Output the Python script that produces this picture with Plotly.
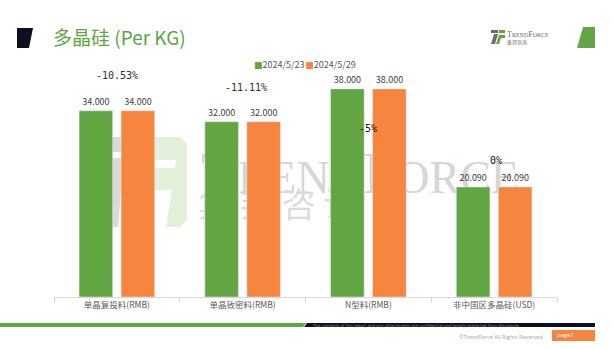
import plotly.graph_objects as go

# ---------------- data ----------------
categories = ["单晶复投料(RMB)", "单晶致密料(RMB)", "N型料(RMB)", "非中国区多晶硅(USD)"]
series_names = ["2024/5/23", "2024/5/29"]
values_0523 = [34.0, 32.0, 38.0, 20.09]
values_0529 = [34.0, 32.0, 38.0, 20.09]
change_labels = ["-10.53%", "-11.11%", "-5%", "0%"]

GREEN = "#64a543"
ORANGE = "#f5853f"
DARK = "#0b1120"
CJK = "Noto Sans CJK SC"

# ---------------- geometry helpers (pixel -> paper) ----------------
YMAX = 42
L, R, B = 54, 557, 297
PX_PER_UNIT = 5.475
T = round(B - YMAX * PX_PER_UNIT)
W, H = R - L, B - T
def X(px):
    return (px - L) / W
def Y(py):
    return (B - py) / H
def poly(pts):
    return "M " + " L ".join(f"{X(a):.5f},{Y(b):.5f}" for a, b in pts) + " Z"

fig = go.Figure()
for nm, vals, col in zip(series_names, [values_0523, values_0529], [GREEN, ORANGE]):
    fig.add_trace(go.Bar(
        x=categories, y=vals, name=nm, marker_color=col,
        texttemplate="%{y:.3f}", textposition="outside", cliponaxis=False,
        textfont=dict(family=CJK, size=9, color="#404040"), showlegend=False,
    ))

def P(pts, color, layer="above"):
    return dict(type="path", xref="paper", yref="paper", layer=layer, path=poly(pts),
                fillcolor=color, line=dict(width=0))

shapes = []
# header decorations
shapes.append(P([(17, 28), (33, 28), (29, 48), (17, 48)], DARK))
shapes.append(P([(583, 27), (595, 27), (595, 48), (577, 48)], GREEN))
# small logo icon
shapes.append(P([(491, 30), (498, 30), (498, 33), (491, 33)], "#6d6d6d"))
shapes.append(P([(494, 34), (498, 34), (495, 44), (491, 44)], "#6d6d6d"))
shapes.append(P([(499, 30), (505, 30), (505, 33), (499, 33)], GREEN))
shapes.append(P([(499, 35), (505, 35), (505, 38), (498, 38)], GREEN))
shapes.append(P([(498, 38), (501, 38), (499, 44), (496, 44)], GREEN))
# watermark logo (below traces)
shapes.append(P([(86, 137), (140, 137), (140, 152), (86, 152)], "#d9d9d9", "below"))
shapes.append(P([(100, 158), (124, 158), (118, 227), (94, 227)], "#d9d9d9", "below"))
shapes.append(P([(145, 137), (180, 137), (187, 144), (187, 220), (180, 227), (145, 227)], "#e3f0da", "below"))
shapes.append(P([(145, 160), (176, 160), (175, 168), (145, 168)], "white", "below"))
shapes.append(P([(145, 190), (172, 190), (166, 227), (145, 227)], "white", "below"))
# watermark texts
shapes.append(dict(type="rect", xref="paper", yref="paper", layer="below",
                   x0=X(200), x1=X(520), y0=Y(192), y1=Y(140), line=dict(width=0), fillcolor="rgba(0,0,0,0)",
                   label=dict(text="T<span style='font-size:46px'>REND</span>F<span style='font-size:46px'>ORCE</span>",
                              font=dict(family="Liberation Serif", size=60, color="#d6d6d6"),
                              textposition="middle center")))
shapes.append(dict(type="rect", xref="paper", yref="paper", layer="below",
                   x0=X(184), x1=X(372), y0=Y(226), y1=Y(188), line=dict(width=0), fillcolor="rgba(0,0,0,0)",
                   label=dict(text="集 邦 咨 询", font=dict(family=CJK, size=34, color="#dcdcdc"),
                              textposition="middle center")))
# footer
shapes.append(P([(0, 323), (306, 323), (303, 327), (0, 327)], GREEN))
shapes.append(P([(307, 323), (595, 323), (595, 327), (304, 327)], DARK))
shapes.append(P([(552, 330), (595, 330), (595, 341), (552, 341)], ORANGE))

annotations = []
# legend (top centre)
legend_text = "".join(
    f"<span style='font-family:DejaVu Sans;color:{col}'>■</span>{nm}"
    + ("<span style='font-size:3px'> </span>" if i == 0 else "")
    for i, (nm, col) in enumerate(zip(series_names, [GREEN, ORANGE]))
)
annotations.append(dict(x=X(252), y=Y(64), xref="paper", yref="paper", xanchor="left", yanchor="middle",
                        text=legend_text, showarrow=False, font=dict(family=CJK, size=9, color="#595959")))
# change labels
label_y = [40.4, 38.2, 30.7, 24.85]
label_xshift = [0, 3, 0, 2]
label_col = ["#303030", "#303030", "#111111", "#111111"]
for c, txt, yy, xs, col in zip(categories, change_labels, label_y, label_xshift, label_col):
    annotations.append(dict(x=c, y=yy, xref="x", yref="y", text=txt, showarrow=False, xshift=xs,
                            font=dict(family="DejaVu Sans Mono", size=10, color=col)))
# logo text
annotations.append(dict(x=X(505), y=Y(35), xref="paper", yref="paper", xanchor="left", yanchor="middle",
                        text="T<span style='font-size:6px'>REND</span>F<span style='font-size:6px'>ORCE</span>",
                        showarrow=False, font=dict(family="Liberation Serif", size=8, color="#6d6d6d")))
annotations.append(dict(x=X(505), y=Y(42), xref="paper", yref="paper", xanchor="left", yanchor="middle",
                        text="集邦咨询", showarrow=False, font=dict(family=CJK, size=5, color="#6d6d6d")))
# footer texts
annotations.append(dict(x=X(310), y=Y(325), xref="paper", yref="paper", xanchor="left", yanchor="middle",
                        text="The contents of this report and any attachments are confidential and legally protected from disclosure.",
                        showarrow=False, font=dict(family="DejaVu Sans", size=4, color="#7f8a9a")))
annotations.append(dict(x=X(457), y=Y(337), xref="paper", yref="paper", xanchor="left", yanchor="middle",
                        text="©TrendForce All Rights Reserved", showarrow=False,
                        font=dict(family="Open Sans", size=5.5, color="#a6a6a6")))
annotations.append(dict(x=X(555), y=Y(335), xref="paper", yref="paper", xanchor="left", yanchor="middle",
                        text="page1", showarrow=False, font=dict(family="Open Sans", size=6, color="white")))

fig.update_layout(
    width=614, height=349,
    margin=dict(l=L, r=614 - R, t=T, b=349 - B, pad=0),
    paper_bgcolor="white", plot_bgcolor="rgba(0,0,0,0)",
    barmode="group", bargap=0.332, bargroupgap=0.2,
    title=dict(text="多晶硅 (Per KG)", x=53 / 614, xanchor="left", y=1 - 38 / 349, yanchor="middle",
               font=dict(family=CJK, size=19, color="#5ea642")),
    xaxis=dict(showline=True, linecolor="#d9d9d9", linewidth=1, ticks="outside", ticklen=5,
               tickcolor="#d9d9d9", tickson="boundaries", showgrid=False,
               tickfont=dict(family=CJK, size=8.5, color="#595959")),
    yaxis=dict(range=[0, YMAX], visible=False, showgrid=False, zeroline=False),
    shapes=shapes, annotations=annotations, showlegend=False,
    hovermode=False,
)

fig.write_html("out.html", config={"displayModeBar": False})
